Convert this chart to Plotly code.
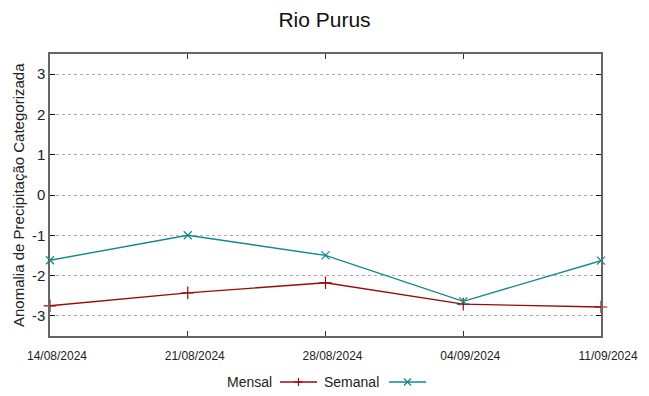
import plotly.graph_objects as go

dates = ["2024-08-14", "2024-08-21", "2024-08-28", "2024-09-04", "2024-09-11"]
tick_labels = ["14/08/2024", "21/08/2024", "28/08/2024", "04/09/2024", "11/09/2024"]
y_ticks = [-3, -2, -1, 0, 1, 2, 3]
y_tick_labels = ["-3", "-2", "-1", "0", "1", "2", "3"]
mensal = [-2.75, -2.43, -2.18, -2.71, -2.78]
semanal = [-1.62, -1.00, -1.50, -2.64, -1.63]

RED = "#9a0a0a"
TEAL = "#148888"
FONT = "Liberation Sans, Arial, sans-serif"

fig = go.Figure()
fig.add_trace(go.Scatter(x=dates, y=mensal, mode="lines+markers", name="Mensal",
                         line=dict(color=RED, width=1.4),
                         marker=dict(symbol="cross-thin", size=9, line=dict(color=RED, width=1.2)),
                         cliponaxis=False))
fig.add_trace(go.Scatter(x=dates, y=semanal, mode="lines+markers", name="Semanal",
                         line=dict(color=TEAL, width=1.4),
                         marker=dict(symbol="x-thin", size=8, line=dict(color=TEAL, width=1.2)),
                         cliponaxis=False))

fig.update_layout(
    width=649, height=396,
    margin=dict(l=50, r=48, t=54, b=60, autoexpand=False),
    paper_bgcolor="white", plot_bgcolor="white",
    font=dict(family=FONT, color="#222"),
    showlegend=False,
    title=dict(text="Rio Purus", x=0.5, xanchor="center", y=1 - 20/396, yanchor="middle",
               yref="container", font=dict(size=21, color="#111")),
)
fig.update_xaxes(
    type="date", range=[dates[0], dates[-1]],
    tickvals=dates, ticktext=tick_labels,
    tickfont=dict(size=12, color="#222"),
    ticks="inside", ticklen=5, tickcolor="#333",
    showline=True, linecolor="#666", linewidth=1.5, mirror="allticks",
    showgrid=False, zeroline=False, ticklabelstandoff=8, ticklabelshift=7, automargin=False,
)
fig.update_yaxes(
    range=[-3.5, 3.5], tickvals=y_ticks, ticktext=y_tick_labels,
    tickfont=dict(size=15, color="#222"),
    ticks="inside", ticklen=5, tickcolor="#111",
    showline=True, linecolor="#666", linewidth=1.5, mirror="allticks",
    showgrid=True, gridcolor="#aaaaaa", griddash="dot", gridwidth=1,
    zeroline=False, ticklabelstandoff=0, automargin=False,
)

# y-axis title
fig.add_annotation(text="Anomalia de Precipitação Categorizada", textangle=-90,
                   xref="paper", yref="paper", x=(18 - 50) / 551, y=0.5,
                   xanchor="center", yanchor="middle", showarrow=False,
                   font=dict(size=15, color="#222"))

# manual legend (text before sample, gnuplot style)
ly = (336 - 382) / 282
def px(x):
    return (x - 50) / 551
legend_items = [("Mensal", RED, 274, 280, 317, "plus"), ("Semanal", TEAL, 381, 389, 426, "x")]
for name, col, tx, l0, l1, sym in legend_items:
    fig.add_annotation(text=name, xref="paper", yref="paper", x=px(tx), y=ly,
                       xanchor="right", yanchor="middle", showarrow=False,
                       font=dict(size=14, color="#222"))
    fig.add_shape(type="line", xref="paper", yref="paper", x0=px(l0), x1=px(l1), y0=ly, y1=ly,
                  line=dict(color=col, width=1.4))
    cx = px((l0 + l1) / 2)
    if sym == "plus":
        segs = [(-4, 0, 4, 0), (0, -4, 0, 4)]
    else:
        segs = [(-3.5, -3.5, 3.5, 3.5), (-3.5, 3.5, 3.5, -3.5)]
    for a, b, c, d in segs:
        fig.add_shape(type="line", xref="paper", yref="paper",
                      xsizemode="pixel", ysizemode="pixel", xanchor=cx, yanchor=ly,
                      x0=a, y0=b, x1=c, y1=d, line=dict(color=col, width=1.2))

fig.write_html("out.html", config={"displayModeBar": False},
               post_script="document.body.style.margin='0';")
